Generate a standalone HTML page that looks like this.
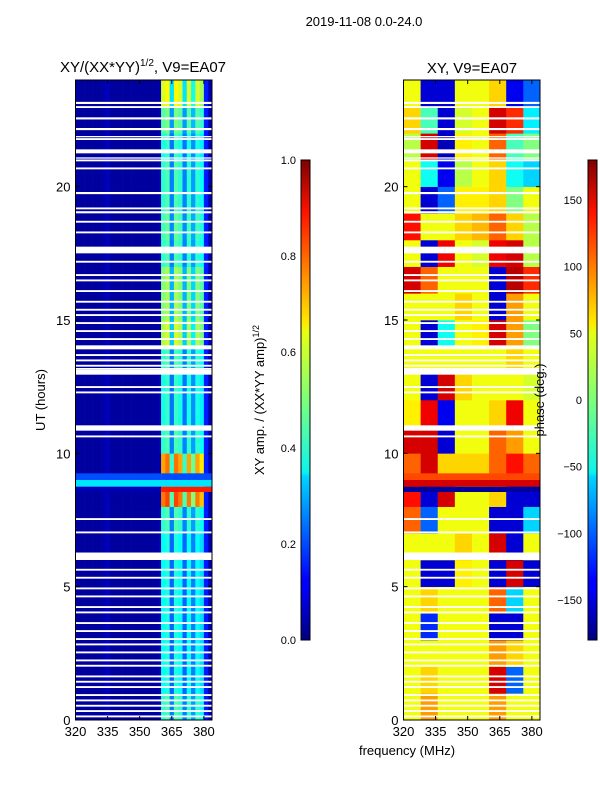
<!DOCTYPE html>
<html><head><meta charset="utf-8">
<style>
html,body{margin:0;padding:0;background:#fff;}
svg text{font-family:"Liberation Sans",sans-serif;}
</style></head>
<body>
<svg id="fig" width="600" height="800" xmlns="http://www.w3.org/2000/svg">
<defs>
<linearGradient id="jet" x1="0" y1="1" x2="0" y2="0">
<stop offset="0" stop-color="#00007f"/><stop offset="0.11" stop-color="#0000ff"/>
<stop offset="0.125" stop-color="#0000ff"/><stop offset="0.34" stop-color="#00d4ff"/>
<stop offset="0.35" stop-color="#0cf4eb"/><stop offset="0.5" stop-color="#7dff7a"/>
<stop offset="0.64" stop-color="#e4ff13"/><stop offset="0.66" stop-color="#ffea00"/>
<stop offset="0.89" stop-color="#ff1300"/><stop offset="1" stop-color="#7f0000"/>
</linearGradient>
</defs>
<text x="364" y="26" font-size="13" text-anchor="middle">2019-11-08 0.0-24.0</text>
<text x="143" y="72" font-size="15" text-anchor="middle">XY/(XX*YY)<tspan font-size="10" dy="-6">1/2</tspan><tspan dy="6">, V9=EA07</tspan></text>
<text x="472" y="73" font-size="15" text-anchor="middle">XY, V9=EA07</text>
<g id="left"></g>
<g id="right"></g>
<g id="axes"></g>
<text transform="translate(45,400) rotate(-90)" font-size="13" text-anchor="middle">UT (hours)</text>
<text x="407" y="755" font-size="13" text-anchor="middle">frequency (MHz)</text>
<rect x="301" y="160" width="9" height="480" fill="url(#jet)" stroke="#000" stroke-width="1"/>
<rect x="588" y="160" width="9" height="480" fill="url(#jet)" stroke="#000" stroke-width="1"/>
<text transform="translate(264,400) rotate(-90)" font-size="13" text-anchor="middle">XY amp. / (XX*YY amp)<tspan font-size="9" dy="-5">1/2</tspan></text>
<text transform="translate(544,400) rotate(-90)" font-size="13" text-anchor="middle">phase (deg.)</text>
</svg>
<script>
const hours=[0,1,2,3,4,5,6,7,8,9,10,11,12,13,14,15,16,17,18,19,20,21,22,23];
const ampFreqBins=[320,322,324,326,328,330,332,334,336,338,340,342,344,346,348,350,352,354,356,358,360,362,364,366,368,370,372,374,376,378,380,382];
const ampFreqProfile=[0.03,0.03,0.03,0.03,0.03,0.03,0.04,0.06,0.03,0.03,0.03,0.03,0.03,0.03,0.03,0.03,0.03,0.03,0.03,0.04,0.42,0.45,0.25,0.45,0.42,0.25,0.42,0.28,0.42,0.38,0.15,0.05];
const ampHourGain=[1.0,0.9,0.9,0.9,0.9,0.9,0.9,1.0,1.8,1.7,1.0,0.95,0.95,1.0,1.3,1.2,1.2,1.0,1.05,1.0,1.0,0.95,1.1,1.4];
const phaseFreqBins=[320,328,336,344,352,360,368,376];
const phaseGrid=[
[40,80,40,40,40,80,40,40],
[40,60,40,40,40,150,-100,40],
[40,40,40,40,40,80,60,40],
[40,-120,40,40,40,-150,-150,40],
[40,60,40,40,40,100,-60,40],
[40,-150,-150,50,40,-150,150,-150],
[40,40,40,60,40,150,-150,40],
[100,-100,40,40,40,-150,-150,-60],
[130,-150,150,40,40,60,-150,-150],
[100,150,60,60,60,100,130,100],
[150,150,-150,40,40,100,80,40],
[50,140,-140,40,40,60,140,40],
[40,-150,150,60,40,40,40,30],
[40,40,40,40,40,40,60,40],
[40,-150,-40,40,50,150,80,0],
[40,40,40,60,40,-150,80,40],
[150,100,40,40,40,-150,160,120],
[40,-150,140,40,30,140,150,20],
[130,40,40,60,70,100,60,20],
[40,-150,-100,50,50,60,0,40],
[40,-40,-140,20,40,60,-40,-60],
[20,150,-160,50,40,100,-20,0],
[60,-20,-150,30,40,150,120,-50],
[40,-150,-150,40,40,60,-140,-100]];
const bandStart=[8.55,8.75,9.0];
const bandEnd=[8.75,9.0,9.25];
const bandAmp=[0.85,0.35,0.2];
const bandPhase=[-170,150,110];
const flagStart=[23.1,22.95,22.52,22.12,21.75,21.85,21.25,20.95,21.05,20.65,19.72,19.15,19.0,18.65,18.25,17.5,17.15,16.65,16.45,16.05,15.65,15.35,15.15,14.85,14.55,14.25,13.9,13.65,13.45,13.25,13.15,12.95,12.45,12.25,10.85,10.6,7.5,7.0,6.0,5.6,5.3,4.9,4.6,4.2,4.0,3.6,3.3,3.0,2.8,2.5,2.2,2.0,1.6,1.4,1.2,0.9,0.7,0.5,0.3,0.1];
const flagEnd=[23.18,23.02,22.6,22.2,21.82,21.9,21.4,21.02,21.1,20.72,19.8,19.22,19.08,18.72,18.32,17.75,17.22,16.72,16.52,16.12,15.72,15.42,15.22,14.92,14.62,14.32,14.05,13.72,13.52,13.32,13.2,13.15,12.52,12.32,11.05,10.67,7.57,7.07,6.28,5.67,5.37,4.97,4.67,4.27,4.07,3.67,3.37,3.07,2.87,2.57,2.27,2.07,1.67,1.47,1.27,0.97,0.77,0.57,0.37,0.17];
const xTicks=[320,335,350,365,380];
const yTicks=[0,5,10,15,20];
const ampTicks=[0.0,0.2,0.4,0.6,0.8,1.0];
const phaseTicks=[-150,-100,-50,0,50,100,150];

const NS="http://www.w3.org/2000/svg";
const F0=320,F1=383.8,T0=0,T1=24;
const panels=[{x0:75.5,x1:212},{x0:403.5,x1:540}];
const Y0=720,Y1=80;
function xs(p,f){return panels[p].x0+(f-F0)/(F1-F0)*(panels[p].x1-panels[p].x0);}
function ys(t){return Y0-(t-T0)/(T1-T0)*(Y0-Y1);}
function jet(v){v=Math.max(0,Math.min(1,v));
 const r=Math.max(0,Math.min(1,1.5-Math.abs(4*v-3))),g=Math.max(0,Math.min(1,1.5-Math.abs(4*v-2))),b=Math.max(0,Math.min(1,1.5-Math.abs(4*v-1)));
 return `rgb(${Math.round(r*255)},${Math.round(g*255)},${Math.round(b*255)})`;}
function rect(parent,x,y,w,h,fill,name){const r=document.createElementNS(NS,'rect');
 r.setAttribute('x',x);r.setAttribute('y',y);r.setAttribute('width',w);r.setAttribute('height',h);r.setAttribute('fill',fill);
 
 
 parent.appendChild(r);return r;}
function txt(parent,x,y,s,anchor,name,size){const t=document.createElementNS(NS,'text');
 t.setAttribute('x',x);t.setAttribute('y',y);t.setAttribute('font-size',size||13);t.setAttribute('text-anchor',anchor);t.textContent=s;
 
 
 parent.appendChild(t);}
function line(parent,x1,y1,x2,y2,name){const l=document.createElementNS(NS,'line');
 l.setAttribute('x1',x1);l.setAttribute('y1',y1);l.setAttribute('x2',x2);l.setAttribute('y2',y2);l.setAttribute('stroke','#000');l.setAttribute('stroke-width','1');
 
 
 parent.appendChild(l);}
const L=document.getElementById('left'),R=document.getElementById('right'),A=document.getElementById('axes');
hours.forEach((h,i)=>{ampFreqBins.forEach((f,j)=>{
 const fe=j+1<ampFreqBins.length?ampFreqBins[j+1]:F1;
 const v=ampFreqProfile[j]*(ampFreqProfile[j]>0.2?ampHourGain[i]:1);
 rect(L,xs(0,f),ys(h+1),xs(0,fe)-xs(0,f)+0.3,ys(h)-ys(h+1)+0.3,jet(v),'amp-cell');});});
bandStart.forEach((b,k)=>{
 rect(L,xs(0,F0),ys(bandEnd[k]),xs(0,360)-xs(0,F0),ys(bandStart[k])-ys(bandEnd[k]),jet(k==0?0.05:bandAmp[k]),'amp-band');
 rect(L,xs(0,360),ys(bandEnd[k]),xs(0,F1)-xs(0,360),ys(bandStart[k])-ys(bandEnd[k]),jet(bandAmp[k]),'amp-band');});
hours.forEach((h,i)=>{phaseFreqBins.forEach((f,j)=>{
 const fe=j+1<phaseFreqBins.length?phaseFreqBins[j+1]:F1;
 rect(R,xs(1,f),ys(h+1),xs(1,fe)-xs(1,f)+0.3,ys(h)-ys(h+1)+0.3,jet((phaseGrid[i][j]+180)/360),'phase-cell');});});
bandStart.forEach((b,k)=>{
 rect(R,xs(1,F0),ys(bandEnd[k]),xs(1,F1)-xs(1,F0),ys(bandStart[k])-ys(bandEnd[k]),jet((bandPhase[k]+180)/360),'phase-band');});
flagStart.forEach((s,k)=>{[0,1].forEach(p=>{
 rect(p?R:L,xs(p,F0),ys(flagEnd[k]),xs(p,F1)-xs(p,F0),Math.max(1.2,ys(s)-ys(flagEnd[k])),'#fff','flagged-row');});});
[0,1].forEach(p=>{
 const fr=document.createElementNS(NS,'rect');
 fr.setAttribute('x',panels[p].x0);fr.setAttribute('y',Y1);fr.setAttribute('width',panels[p].x1-panels[p].x0);fr.setAttribute('height',Y0-Y1);
 fr.setAttribute('fill','none');fr.setAttribute('stroke','#000');
 
 
 A.appendChild(fr);
 xTicks.forEach(f=>{const x=xs(p,f);line(A,x,Y0,x,Y0-4,'x-tick');line(A,x,Y1,x,Y1+4,'x-tick');
  txt(A,x,736,String(f),'middle','x-tick-label');});
 yTicks.forEach(t=>{const y=ys(t);line(A,panels[p].x0,y,panels[p].x0+4,y,'y-tick');line(A,panels[p].x1,y,panels[p].x1-4,y,'y-tick');
  txt(A,panels[p].x0-5,y+5,String(t),'end','y-tick-label');});
});
ampTicks.forEach(v=>{const y=640-v*480;line(A,301,y,305,y,'amp-cbar-tick');line(A,310,y,306,y,'amp-cbar-tick');
 txt(A,296,y+4,v.toFixed(1),'end','amp-cbar-tick-label',11);});
phaseTicks.forEach(v=>{const y=640-(v+180)/360*480;line(A,588,y,592,y,'phase-cbar-tick');line(A,597,y,593,y,'phase-cbar-tick');
 txt(A,582,y+4,v<0?'\u2212'+(-v):String(v),'end','phase-cbar-tick-label',11);});
</script>
</body></html>
